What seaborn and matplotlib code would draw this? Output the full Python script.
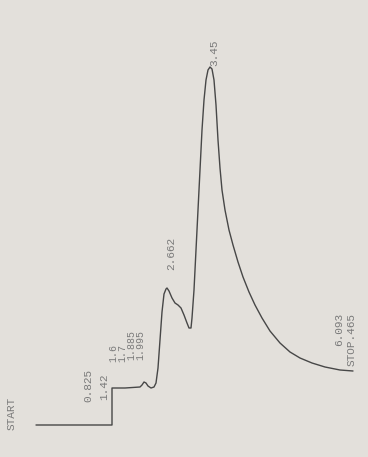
import matplotlib
matplotlib.use("Agg")
import matplotlib.pyplot as plt
import seaborn as sns
import pandas as pd

# Chromatogram trace (x = chart position, signal = pen height)
time = [36, 112, 112, 125, 140, 142, 144, 146, 148, 151, 154, 156, 158, 160, 162, 164,
        166, 167, 169, 172, 175, 178, 181, 184, 187, 189, 191, 192, 194, 196, 199, 202,
        204, 206, 208, 210, 212, 214, 216, 218, 220, 222, 225, 229, 233, 238, 243, 249,
        255, 262, 270, 280, 290, 300, 312, 325, 340, 353]
height = [425, 425, 388, 388, 387, 385, 382, 383, 386, 388, 387, 383, 368, 340, 312, 294,
          289, 288, 291, 298, 303, 305, 308, 315, 323, 328, 328, 318, 290, 250, 190, 130,
          100, 80, 70, 67, 69, 80, 105, 140, 168, 190, 210, 230, 245, 262, 277, 292,
          305, 318, 331, 343, 352, 358, 363, 367, 370, 371]

# Printed event labels
labels = ["START", "0.825", "1.42", "1.6", "1.7", "1.885", "1.995", "2.662", "3.45", "6.093", "STOP.465"]
label_x = [12, 88, 104, 113, 122, 131, 140, 171, 214, 339, 352]
label_y = [430, 402, 400, 362, 362, 360, 360, 270, 66, 346, 366]
label_size = [8.0, 8.0, 8.0, 7.2, 7.2, 7.2, 7.2, 8.0, 8.0, 8.0, 8.0]

W, H = 368, 457
sns.set_theme(style="white")
paper = "#e3e0db"
fig = plt.figure(figsize=(W / 100, H / 100), dpi=100, facecolor=paper)
ax = fig.add_axes([0, 0, 1, 1])
ax.set_facecolor(paper)

df = pd.DataFrame({"time": time, "height": height})
sns.lineplot(data=df, x="time", y="height", sort=False, estimator=None,
             color="#474747", linewidth=1.0, ax=ax)

for txt, x, y, fs in zip(labels, label_x, label_y, label_size):
    ax.text(x, y, txt, rotation=90, ha="left", va="center", rotation_mode="anchor",
            family="Liberation Mono", fontsize=fs, color="#7a7a7a")

ax.set_xlim(0, W)
ax.set_ylim(H, 0)
ax.axis("off")
fig.savefig("out.png", dpi=100, facecolor=paper)
